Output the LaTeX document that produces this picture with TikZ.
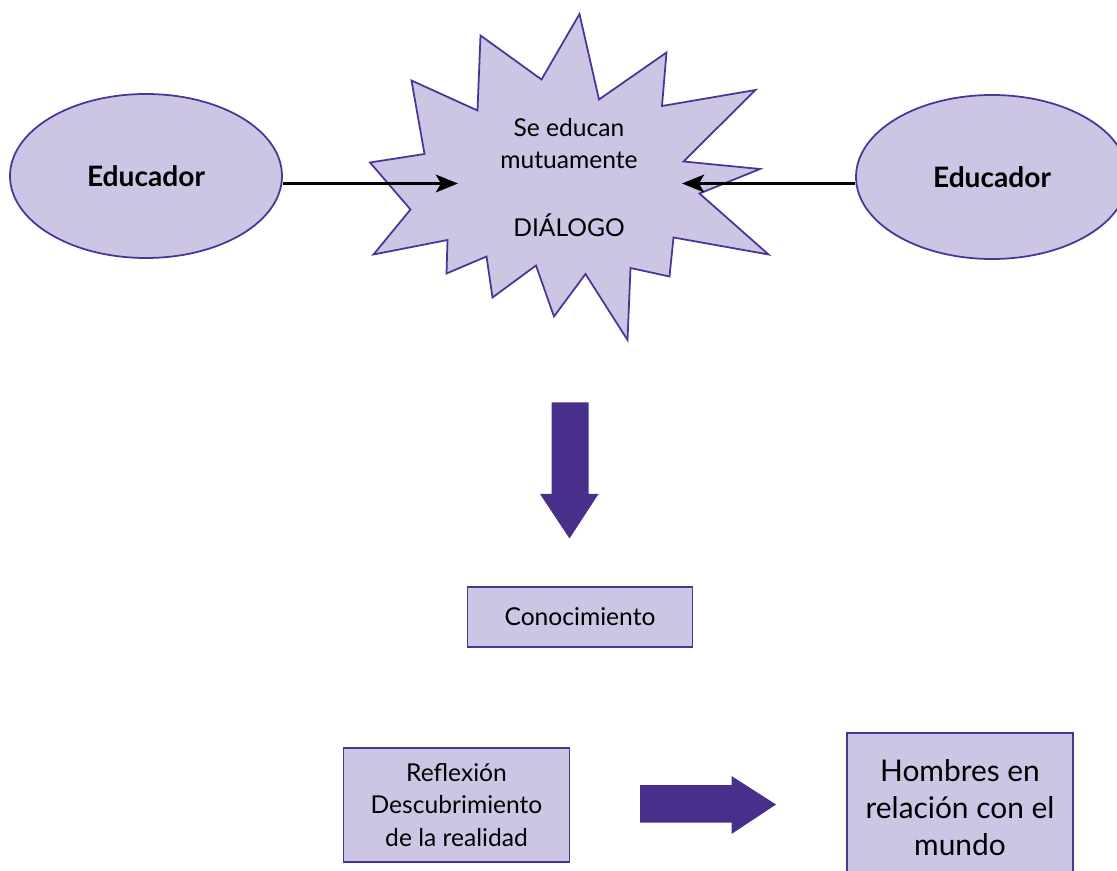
\documentclass[tikz,border=0pt]{standalone}
\usepackage{fontspec}
\setmainfont{Lato}
\usepackage{tikz}
\usetikzlibrary{arrows.meta,positioning,shapes.geometric}
\definecolor{lilafill}{RGB}{204,197,227}
\definecolor{lilaedge}{RGB}{75,52,150}
\definecolor{lilaarrow}{RGB}{72,47,140}

\begin{document}
\begin{tikzpicture}[
      edu/.style={ellipse, draw=lilaedge, fill=lilafill, line width=1pt,
                  minimum width=5.44cm, minimum height=3.28cm,
                  font=\fontsize{16}{20}\selectfont\bfseries},
      caja/.style={draw=lilaedge, fill=lilafill, line width=1pt, align=center,
                   font=\fontsize{14}{18.6}\selectfont, inner sep=2pt},
      burst/.style={draw=lilaedge, fill=lilafill, line width=1pt, line join=miter},
      arr/.style={-{Stealth[length=4.4mm, width=3.5mm, inset=1mm]}, line width=2.1pt},
      bigarr/.style={fill=lilaarrow}
    ]
    \clip (0,0) rectangle (22.34,-17.42);
    % star
    \draw[burst] (11.59,-0.28) -- (11.98,-1.99) -- (13.33,-1.05) -- (13.24,-2.12)
      -- (15.11,-1.80) -- (13.67,-3.23) -- (15.20,-3.38) -- (13.99,-3.87)
      -- (15.37,-5.09) -- (13.47,-4.75) -- (13.39,-5.53) -- (12.61,-5.36)
      -- (12.55,-6.80) -- (11.71,-5.48) -- (11.08,-6.33) -- (10.72,-5.31)
      -- (9.85,-5.95) -- (9.73,-5.13) -- (8.93,-5.47) -- (8.95,-4.80)
      -- (7.47,-5.09) -- (8.21,-4.19) -- (7.40,-3.25) -- (8.49,-3.08)
      -- (8.23,-1.61) -- (9.55,-2.21) -- (9.61,-0.71) -- (10.83,-1.59) -- cycle;
    \node[font=\fontsize{14}{18.6}\selectfont, align=center] (dialogo) at (11.38,-3.55)
      {Se educan\\ mutuamente\\[20pt] DIÁLOGO};
    \node[edu] (eduL) at (2.92,-3.52) {Educador};
    \node[edu] (eduR) at (19.84,-3.54) {Educador};
    \coordinate (inL) at (9.16,-3.67);
    \coordinate (inR) at (13.64,-3.67);
    \draw[arr] (eduL.east |- inL) -- (inL);
    \draw[arr] (eduR.west |- inR) -- (inR);
    % big arrows
    \fill[bigarr] (11.03,-8.05) -- (11.77,-8.05) -- (11.77,-9.88) -- (11.97,-9.88)
      -- (11.39,-10.77) -- (10.80,-9.88) -- (11.03,-9.88) -- cycle;
    \fill[bigarr] (12.80,-15.70) -- (14.63,-15.70) -- (14.63,-15.52) -- (15.52,-16.09)
      -- (14.63,-16.68) -- (14.63,-16.45) -- (12.80,-16.45) -- cycle;
    \node[caja, minimum width=4.5cm, minimum height=1.19cm] (cono) at (11.60,-12.34)
      {Conocimiento};
    \node[caja, minimum width=4.52cm, minimum height=2.27cm] (refl) at (9.13,-16.10)
      {Reflexión\\ Descubrimiento\\ de la realidad};
    \node[caja, minimum width=4.51cm, minimum height=3cm,
          font=\fontsize{17}{21}\selectfont] (homb) at (19.20,-16.16)
      {Hombres en\\ relación con el\\ mundo};
  \end{tikzpicture}
\end{document}
